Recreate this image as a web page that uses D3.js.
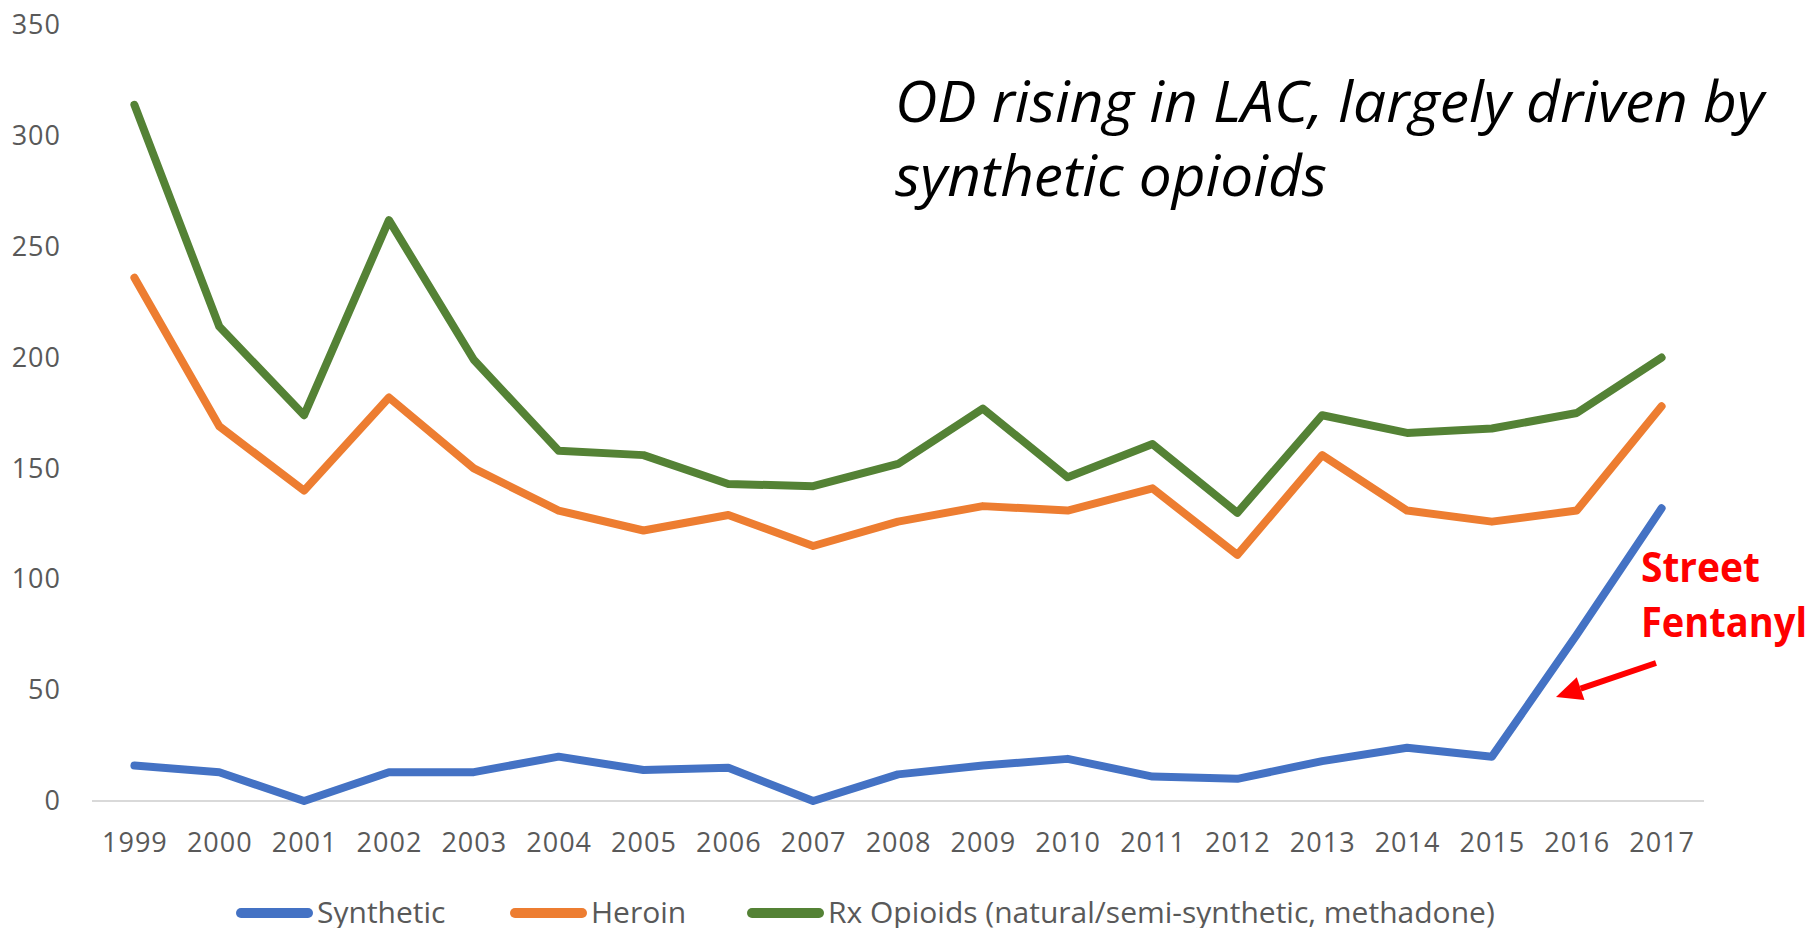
<!DOCTYPE html>
<html>
<head>
<meta charset="utf-8">
<script src="https://cdn.jsdelivr.net/npm/d3@7"></script>
<style>
  html, body { margin: 0; padding: 0; background: #fff; }
  svg { display: block; }
</style>
</head>
<body>
<main></main>
<script>
var width = 1812;
var height = 928;

var years = ['1999','2000','2001','2002','2003','2004','2005','2006','2007','2008',
             '2009','2010','2011','2012','2013','2014','2015','2016','2017'];
var synthetic = [16, 13, 0, 13, 13, 20, 14, 15, 0, 12, 16, 19, 11, 10, 18, 24, 20, 75, 132];
var heroin = [236, 169, 140, 182, 150, 131, 122, 129, 115, 126, 133, 131, 141, 111, 156, 131, 126, 131, 178];
var rxOpioids = [314, 214, 174, 262, 199, 158, 156, 143, 142, 152, 177, 146, 161, 130, 174, 166, 168, 175, 200];
var yTicks = [0, 50, 100, 150, 200, 250, 300, 350];

var seriesNames = ['Synthetic', 'Heroin', 'Rx Opioids (natural/semi-synthetic, methadone)'];
var seriesColors = ['#4472C4', '#ED7D31', '#548235'];
var seriesValues = [synthetic, heroin, rxOpioids];

var svg = d3.select('main').append('svg')
  .attr('width', width)
  .attr('height', height);

svg.append('rect')
  .attr('width', width)
  .attr('height', height)
  .attr('fill', '#fff');

var x = d3.scalePoint()
  .domain(years)
  .range([92, 1704])
  .padding(0.5);

var y = d3.scaleLinear()
  .domain([0, 350])
  .range([801, 25]);

// baseline
svg.append('line')
  .attr('x1', 92)
  .attr('x2', 1704)
  .attr('y1', y(0))
  .attr('y2', y(0))
  .attr('stroke', '#D9D9D9')
  .attr('stroke-width', 2);

// y labels
var yAxis = svg.append('g')
  .attr('transform', 'translate(61,0)')
  .call(d3.axisLeft(y).tickValues(yTicks).tickSize(0).tickPadding(0));
yAxis.select('.domain').remove();
yAxis.selectAll('text')
  .attr('fill', '#595959')
  .style('font-family', '"Open Sans", sans-serif')
  .style('font-size', '27px')
  .style('letter-spacing', '1px');

// x labels
var xAxis = svg.append('g')
  .attr('transform', 'translate(0,' + y(0) + ')')
  .call(d3.axisBottom(x).tickSize(0).tickPadding(32));
xAxis.select('.domain').remove();
xAxis.selectAll('text')
  .attr('fill', '#595959')
  .style('font-family', '"Open Sans", sans-serif')
  .style('font-size', '27px')
  .style('letter-spacing', '1px');

var line = d3.line()
  .x(function(d, i) { return x(years[i]); })
  .y(function(d) { return y(d); });

for (var s = 0; s < seriesValues.length; s++) {
  svg.append('path')
    .datum(seriesValues[s])
    .attr('d', line)
    .attr('fill', 'none')
    .attr('stroke', seriesColors[s])
    .attr('stroke-width', 8)
    .attr('stroke-linejoin', 'round')
    .attr('stroke-linecap', 'round');
}

// title
var title = svg.append('g')
  .style('font-family', '"Open Sans", sans-serif')
  .style('font-style', 'italic')
  .style('font-size', '56px')
  .attr('fill', '#000');
title.append('text')
  .attr('x', 895).attr('y', 122)
  .attr('textLength', 869)
  .attr('lengthAdjust', 'spacingAndGlyphs')
  .text('OD rising in LAC, largely driven by');
title.append('text')
  .attr('x', 895).attr('y', 196)
  .attr('textLength', 432)
  .attr('lengthAdjust', 'spacingAndGlyphs')
  .text('synthetic opioids');

// annotation
var note = svg.append('g')
  .style('font-family', '"Open Sans", sans-serif')
  .style('font-weight', 'bold')
  .style('font-size', '42px')
  .attr('fill', '#FF0000');
note.append('text')
  .attr('x', 1641).attr('y', 582)
  .attr('textLength', 119)
  .attr('lengthAdjust', 'spacingAndGlyphs')
  .text('Street');
note.append('text')
  .attr('x', 1641).attr('y', 637)
  .attr('textLength', 166)
  .attr('lengthAdjust', 'spacingAndGlyphs')
  .text('Fentanyl');

var tipX = 1556, tipY = 697;
var tailX = 1656, tailY = 663;
var ang = Math.atan2(tipY - tailY, tipX - tailX);
var headLen = 26, headW = 12;
var bx = tipX - headLen * Math.cos(ang), by = tipY - headLen * Math.sin(ang);
svg.append('line')
  .attr('x1', tailX).attr('y1', tailY)
  .attr('x2', bx).attr('y2', by)
  .attr('stroke', '#FF0000')
  .attr('stroke-width', 6);
svg.append('path')
  .attr('d', 'M' + tipX + ',' + tipY +
    'L' + (bx + headW * Math.sin(ang)) + ',' + (by - headW * Math.cos(ang)) +
    'L' + (bx - headW * Math.sin(ang)) + ',' + (by + headW * Math.cos(ang)) + 'Z')
  .attr('fill', '#FF0000');

// legend
var legendX = [236, 510, 747];
var legend = svg.append('g')
  .attr('transform', 'translate(0,913)');
for (var k = 0; k < seriesNames.length; k++) {
  legend.append('line')
    .attr('x1', legendX[k] + 5).attr('x2', legendX[k] + 72)
    .attr('y1', 0).attr('y2', 0)
    .attr('stroke', seriesColors[k])
    .attr('stroke-width', 10)
    .attr('stroke-linecap', 'round');
  legend.append('text')
    .attr('x', legendX[k] + 81)
    .attr('y', 10)
    .attr('fill', '#595959')
    .style('font-family', '"Open Sans", sans-serif')
    .style('font-size', '30px')
    .text(seriesNames[k]);
}
</script>
</body>
</html>
